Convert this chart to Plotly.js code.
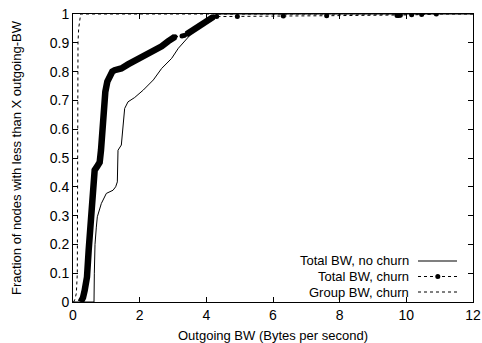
<!DOCTYPE html>
<html>
<head>
<meta charset="utf-8">
<script src="https://cdn.plot.ly/plotly-3.0.1.min.js"></script>
<style>html,body{margin:0;padding:0;background:#fff;}#chart{width:482px;height:343px;}</style>
</head>
<body>
<div id="chart"></div>
<script>
// Total BW, no churn (thin solid line)
const noChurnX = [0, 0.63, 0.64, 0.66, 0.7, 0.73, 0.85, 1.0, 1.2, 1.28, 1.33, 1.35, 1.45, 1.55, 1.65, 1.85, 2.11, 2.41, 2.66, 2.96, 3.16, 3.56, 3.8, 4.11, 4.25, 4.35, 12];
const noChurnY = [0, 0, 0.1, 0.2, 0.26, 0.296, 0.342, 0.377, 0.388, 0.40, 0.417, 0.527, 0.545, 0.672, 0.695, 0.71, 0.736, 0.771, 0.811, 0.846, 0.881, 0.933, 0.955, 0.979, 0.995, 1.0, 1.0];

// Total BW, churn: dense part (points packed into a thick line)
const churnDenseX = [0.23, 0.3, 0.35, 0.42, 0.47, 0.53, 0.57, 0.65, 0.72, 0.8, 0.84, 0.9, 0.97, 1.03, 1.1, 1.18, 1.25, 1.45, 1.65, 1.81, 2.05, 2.31, 2.5, 2.66, 2.85, 3.06];
const churnDenseY = [0, 0.015, 0.04, 0.087, 0.18, 0.296, 0.388, 0.458, 0.47, 0.485, 0.527, 0.649, 0.73, 0.765, 0.788, 0.8, 0.805, 0.811, 0.825, 0.834, 0.848, 0.863, 0.878, 0.888, 0.905, 0.921];
const churnDense2X = [3.41, 3.55, 3.7, 3.85, 4.0, 4.1, 4.21];
const churnDense2Y = [0.93, 0.94, 0.952, 0.963, 0.975, 0.983, 0.99];
// Total BW, churn: sparse tail points
const churnTailX = [3.06, 3.27, 3.33, 3.41, 4.21, 4.31, 4.93, 6.31, 7.61, 9.72, 9.77, 9.82, 10.16, 10.46, 10.9];
const churnTailY = [0.921, 0.924, 0.925, 0.93, 0.99, 0.991, 0.991, 0.993, 0.994, 0.995, 0.995, 0.996, 0.997, 0.998, 1.0];

// Group BW, churn (dotted line)
const groupX = [0.02, 0.06, 0.1, 0.12, 0.13, 0.135, 0.14, 0.145, 0.15, 0.17, 0.2, 0.23, 12];
const groupY = [0, 0.01, 0.03, 0.06, 0.1, 0.3, 0.6, 0.82, 0.9, 0.95, 0.985, 1.0, 1.0];

const xTicks = [0, 2, 4, 6, 8, 10, 12];
const yTicks = [0, 0.1, 0.2, 0.3, 0.4, 0.5, 0.6, 0.7, 0.8, 0.9, 1];
const yTickText = ["0", "0.1", "0.2", "0.3", "0.4", "0.5", "0.6", "0.7", "0.8", "0.9", "1"];
const legendNames = ["Total BW, no churn", "Total BW, churn", "Group BW, churn"];

const FONT = '"Liberation Sans", Arial, Helvetica, sans-serif';

const traces = [
  {x: groupX, y: groupY, mode: 'lines', line: {color: '#000', width: 1, dash: 'dot'}, showlegend: false, hoverinfo: 'skip'},
  {x: noChurnX, y: noChurnY, mode: 'lines', line: {color: '#000', width: 1}, showlegend: false, hoverinfo: 'skip'},
  {x: churnTailX, y: churnTailY, mode: 'lines+markers', line: {color: '#000', width: 1, dash: 'dot'}, marker: {color: '#000', size: 5}, showlegend: false, hoverinfo: 'skip'},
  {x: churnDenseX, y: churnDenseY, mode: 'lines', line: {color: '#000', width: 6.5}, showlegend: false, hoverinfo: 'skip'},
  {x: churnDense2X, y: churnDense2Y, mode: 'lines', line: {color: '#000', width: 6.5}, showlegend: false, hoverinfo: 'skip'}
];

const legRows = [0.1424, 0.0885, 0.0347];
const annotations = legendNames.map((t, i) => ({
  xref: 'paper', yref: 'paper', x: 0.8425, y: legRows[i], xanchor: 'right', yanchor: 'middle',
  text: t, showarrow: false, borderpad: 0, font: {family: FONT, size: 13, color: '#000'}
}));
const shapes = [
  {type: 'line', xref: 'paper', yref: 'paper', x0: 0.8625, x1: 0.96, y0: legRows[0], y1: legRows[0], line: {color: '#000', width: 1.2}},
  {type: 'line', xref: 'paper', yref: 'paper', x0: 0.8625, x1: 0.96, y0: legRows[1], y1: legRows[1], line: {color: '#000', width: 1, dash: 'dot'}},
  {type: 'circle', xref: 'paper', yref: 'paper', xsizemode: 'pixel', ysizemode: 'pixel', xanchor: 0.912, yanchor: legRows[1], x0: -2.5, x1: 2.5, y0: -2.5, y1: 2.5, fillcolor: '#000', line: {color: '#000', width: 0}},
  {type: 'line', xref: 'paper', yref: 'paper', x0: 0.8625, x1: 0.96, y0: legRows[2], y1: legRows[2], line: {color: '#000', width: 1, dash: 'dot'}}
];

const axisCommon = {
  showgrid: false, zeroline: false, showline: true, linecolor: '#000', linewidth: 1,
  mirror: 'ticks', ticks: 'inside', ticklen: 5, tickwidth: 1, tickcolor: '#000',
  tickfont: {family: FONT, size: 14, color: '#000'}
};

const layout = {
  width: 482, height: 343,
  margin: {l: 73, r: 9, t: 14, b: 41, pad: 0},
  paper_bgcolor: '#fff', plot_bgcolor: '#fff',
  showlegend: false,
  xaxis: Object.assign({}, axisCommon, {
    range: [0, 12], tickvals: xTicks, ticktext: xTicks.map(String),
    title: {text: 'Outgoing BW (Bytes per second)', font: {family: FONT, size: 13, color: '#000'}, standoff: 9}
  }),
  yaxis: Object.assign({}, axisCommon, {
    range: [0, 1], tickvals: yTicks, ticktext: yTickText,
    title: {text: 'Fraction of nodes with less than X outgoing-BW', font: {family: FONT, size: 13, color: '#000'}, standoff: 25}
  }),
  annotations: annotations,
  shapes: shapes
};

Plotly.newPlot('chart', traces, layout, {staticPlot: true, displayModeBar: false});
</script>
</body>
</html>
